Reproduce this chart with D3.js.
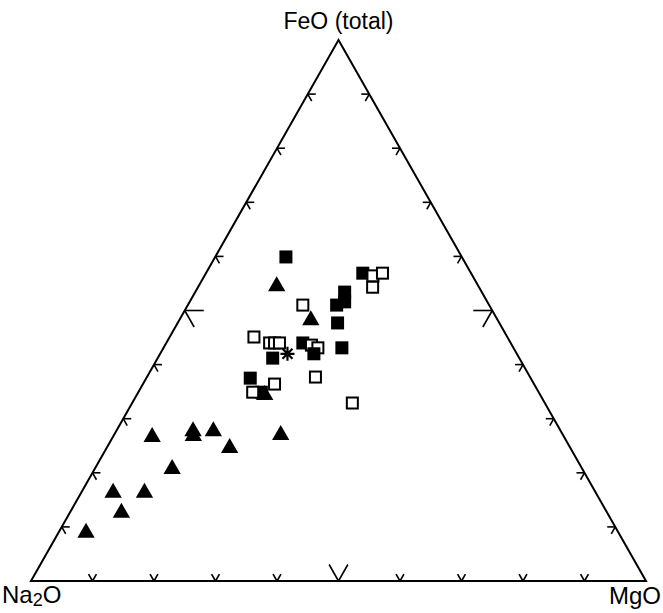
<!DOCTYPE html>
<html lang="en">
<head>
  <meta charset="UTF-8">
  <title>FeO (total) - Na2O - MgO ternary</title>
  <style>
    html, body { margin: 0; background: #fff; }
    text { font-family: 'Liberation Sans', Arial, sans-serif; fill: #000; }
    .edge { fill: none; stroke: #000; stroke-width: 2px; }
    .tick { stroke: #000; stroke-width: 1.6px; }
  </style>
</head>
<body>
<svg id="chart" width="663" height="613" viewBox="0 0 663 613"></svg>
<script src="https://cdnjs.cloudflare.com/ajax/libs/d3/7.8.5/d3.min.js"></script>
<script>

// compositions as [Na2O, MgO, FeO] in percent
const triangles = [
  [86.6, 4.5, 8.9], [78.5, 5.2, 16.3], [79.0, 8.4, 12.6], [73.4, 10.3, 16.3],
  [67.0, 6.4, 26.6], [66.7, 12.6, 20.7], [59.8, 12.5, 27.7], [60.2, 13.0, 26.8],
  [56.5, 15.8, 27.7], [55.4, 20.0, 24.6], [45.9, 27.1, 27.0], [44.8, 20.8, 34.4],
  [32.8, 12.7, 54.5], [30.4, 21.4, 48.2]
];
const filledSquares = [
  [28.6, 11.5, 59.9], [17.6, 25.5, 56.9], [22.3, 24.3, 53.4], [24.8, 24.2, 51.0],
  [23.2, 25.2, 51.6], [26.3, 26.0, 47.7], [27.9, 29.0, 43.1], [33.8, 22.2, 44.0],
  [40.1, 18.7, 41.2], [45.6, 16.9, 37.5], [45.1, 20.0, 34.9]
];
const openSquares = [
  [30.3, 18.7, 51.0], [16.2, 27.4, 56.4], [14.4, 28.7, 56.9], [17.3, 28.4, 54.3],
  [41.2, 13.7, 45.1], [39.2, 16.8, 44.0], [38.4, 17.6, 44.0], [37.6, 18.4, 44.0],
  [32.6, 23.8, 43.6], [31.8, 25.1, 43.1], [34.9, 27.4, 37.7], [42.2, 21.4, 36.4],
  [46.5, 18.6, 34.9], [31.3, 35.8, 32.9]
];
const lateSquares = [[33.0, 25.0, 42.0]];
const asterisks = [[37.3, 20.7, 42.0]];
const tickValues = d3.range(10, 100, 10);

const svg = d3.select("#chart");

const x = d3.scaleLinear().domain([0, 100]).range([31, 646]);
const y = d3.scaleLinear().domain([0, 100]).range([581, 40]);

// ternary -> pixel
function pt(d) {
  const s = d[0] + d[1] + d[2];
  const mg = d[1] / s * 100, fe = d[2] / s * 100;
  return [x(mg + fe / 2), y(fe)];
}

const A = pt([100, 0, 0]), B = pt([0, 100, 0]), C = pt([0, 0, 100]);

svg.append("path")
  .attr("class", "edge")
  .attr("d", "M" + A + "L" + B + "L" + C + "Z");

function unit(p, q) {
  const dx = q[0] - p[0], dy = q[1] - p[1], l = Math.hypot(dx, dy);
  return [dx / l, dy / l];
}

// each tick: two prongs parallel to the other edges, pointing inward
const edges = [
  { at: t => [100 - t, 0, t], dirs: [unit(A, B), unit(C, B)] },   // Na2O - FeO
  { at: t => [100 - t, t, 0], dirs: [unit(A, C), unit(B, C)] },   // Na2O - MgO
  { at: t => [0, 100 - t, t], dirs: [unit(B, A), unit(C, A)] }    // MgO - FeO
];

const tickG = svg.append("g");
edges.forEach(e => {
  tickValues.forEach(t => {
    const p = pt(e.at(t));
    const len = t === 50 ? 19 : 8;
    e.dirs.forEach(u => {
      tickG.append("line")
        .attr("class", "tick")
        .attr("x1", p[0]).attr("y1", p[1])
        .attr("x2", p[0] + u[0] * len).attr("y2", p[1] + u[1] * len);
    });
  });
});

const marks = svg.append("g");

marks.selectAll(".fsq")
  .data(filledSquares)
  .join("rect")
  .attr("x", d => pt(d)[0] - 6.5)
  .attr("y", d => pt(d)[1] - 6.5)
  .attr("width", 13).attr("height", 13)
  .attr("fill", "#000");

marks.selectAll(".osq")
  .data(openSquares)
  .join("rect")
  .attr("x", d => pt(d)[0] - 5.5)
  .attr("y", d => pt(d)[1] - 5.5)
  .attr("width", 11).attr("height", 11)
  .attr("fill", "#fff")
  .attr("stroke", "#000")
  .attr("stroke-width", 2);

marks.selectAll(".lsq")
  .data(lateSquares)
  .join("rect")
  .attr("x", d => pt(d)[0] - 6.5)
  .attr("y", d => pt(d)[1] - 6.5)
  .attr("width", 13).attr("height", 13)
  .attr("fill", "#000");

const tri = d3.symbol().type(d3.symbolTriangle).size(130);
marks.selectAll(".tri")
  .data(triangles)
  .join("path")
  .attr("d", tri)
  .attr("transform", d => "translate(" + pt(d) + ")")
  .attr("fill", "#000");

// eight-armed asterisk
const ast = "M0,-7V7M-7,0H7M-5,-5L5,5M-5,5L5,-5";
marks.selectAll(".ast")
  .data(asterisks)
  .join("path")
  .attr("d", ast)
  .attr("transform", d => "translate(" + pt(d) + ")")
  .attr("stroke", "#000")
  .attr("stroke-width", 2.2);

svg.append("text")
  .attr("x", C[0]).attr("y", 29)
  .attr("text-anchor", "middle")
  .attr("font-size", 23)
  .text("FeO (total)");

const na = svg.append("text")
  .attr("x", 2).attr("y", 603)
  .attr("font-size", 24);
na.append("tspan").text("Na");
na.append("tspan").attr("font-size", 18).attr("dy", 3).text("2");
na.append("tspan").attr("dy", -3).text("O");

svg.append("text")
  .attr("x", 661).attr("y", 604)
  .attr("text-anchor", "end")
  .attr("font-size", 24)
  .text("MgO");

</script>
</body>
</html>
